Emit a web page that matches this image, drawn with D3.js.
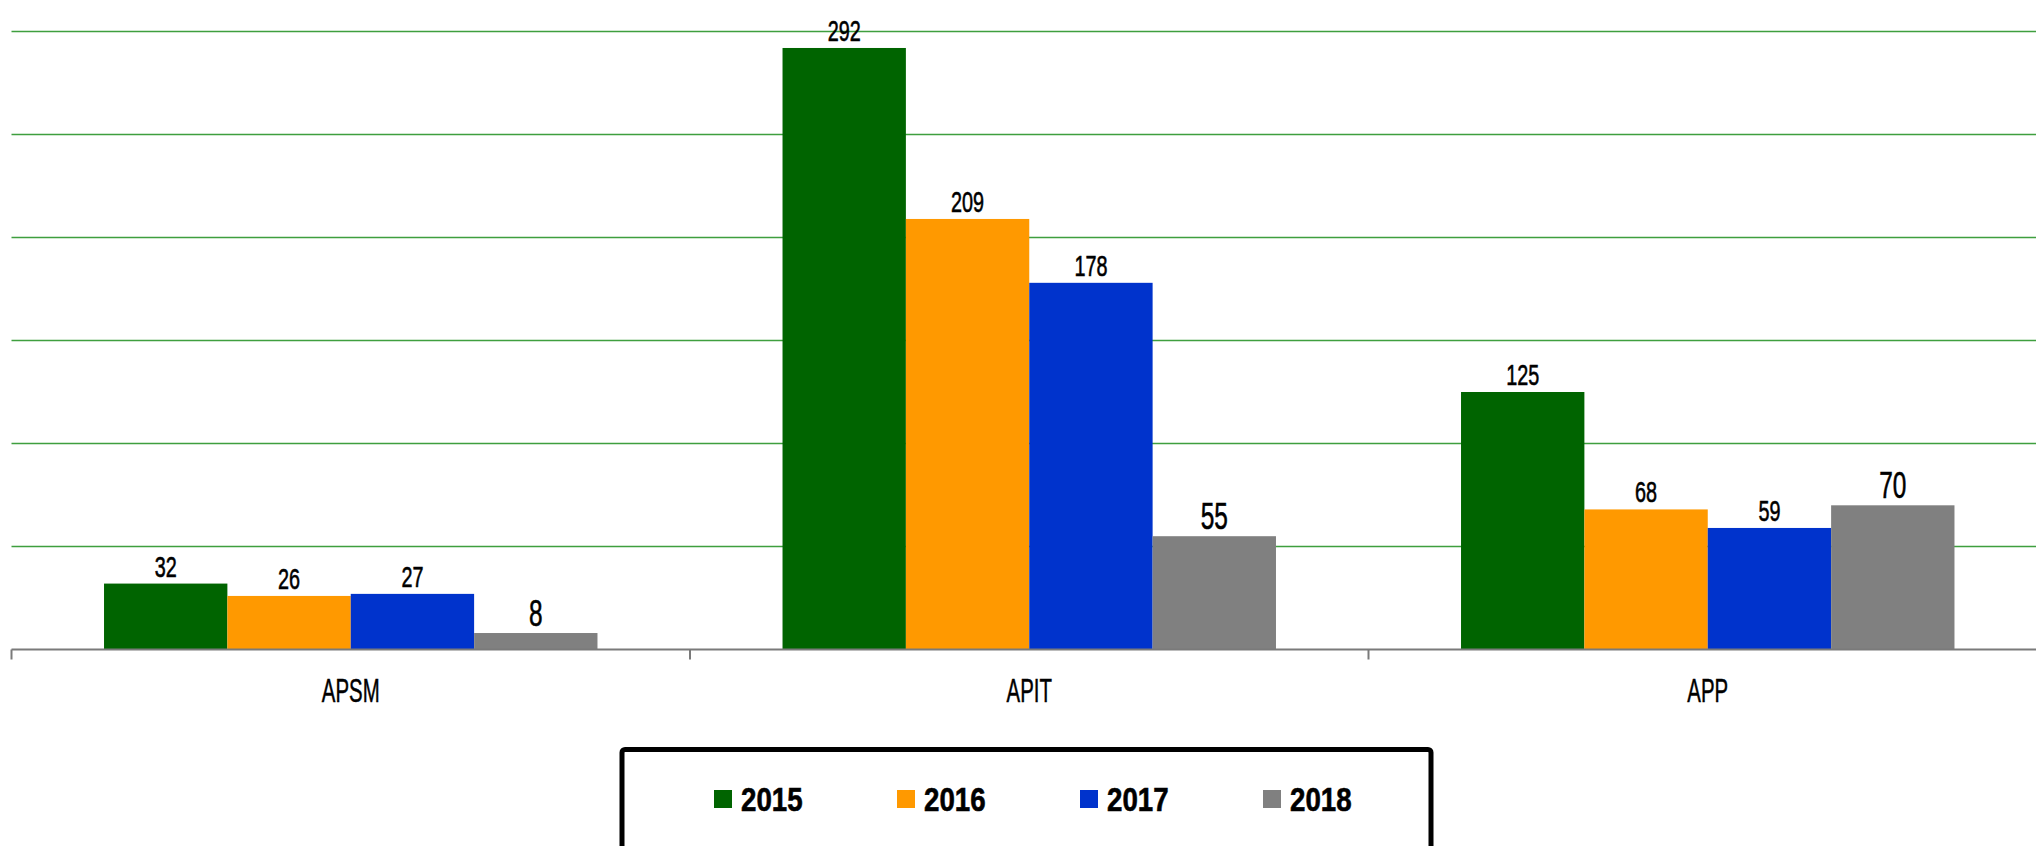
<!DOCTYPE html>
<html>
<head>
<meta charset="utf-8">
<script src="https://cdn.jsdelivr.net/npm/d3@7"></script>
<style>
  html, body { margin: 0; padding: 0; background: #fff; }
  svg { display: block; }
  text { font-family: "Liberation Sans", Arial, sans-serif; }
</style>
</head>
<body>
<div id="chart"></div>
<script>
const width = 2036
const height = 846

const categories = ["APSM", "APIT", "APP"]
const years = ["2015", "2016", "2017", "2018"]
const colors = ["#006400", "#FF9900", "#0033CC", "#808080"]
// one list per year, in the order of categories
const values2015 = [32, 292, 125]
const values2016 = [26, 209, 68]
const values2017 = [27, 178, 59]
const values2018 = [8, 55, 70]
const yTicks = [50, 100, 150, 200, 250, 300]

const series = [values2015, values2016, values2017, values2018]

// 2018 labels were drawn larger in the original
const bigLabelYear = "2018"

// the original font is a tall condensed face, squeeze a normal one
const condense = 0.66

const svg = d3.select("#chart")
    .append("svg")
    .attr("width", width)
    .attr("height", height)
    .attr("viewBox", [0, 0, width, height])

const x0 = d3.scaleBand(categories, [11.5, 2047]).paddingInner(0).paddingOuter(0)
const x1 = d3.scaleBand(years, [0, x0.bandwidth()]).paddingInner(0).paddingOuter(0.75)
const y = d3.scaleLinear([0, 300], [649.5, 31.5])

// gridlines
svg.append("g")
    .selectAll("line")
    .data(yTicks)
    .join("line")
        .attr("x1", 11.5)
        .attr("x2", width)
        .attr("y1", d => y(d))
        .attr("y2", d => y(d))
        .attr("stroke", "#3f9f3f")
        .attr("stroke-width", 1.6)

// bars
const rows = []
categories.forEach((c, ci) => {
    years.forEach((yr, yi) => {
        rows.push({cat: c, year: yr, value: series[yi][ci], color: colors[yi]})
    })
})

const bars = svg.append("g")
bars.selectAll("rect")
    .data(rows)
    .join("rect")
        .attr("x", d => x0(d.cat) + x1(d.year))
        .attr("y", d => y(d.value))
        .attr("width", x1.bandwidth())
        .attr("height", d => y(0) - y(d.value))
        .attr("fill", d => d.color)

// value labels
bars.selectAll("text")
    .data(rows)
    .join("text")
        .attr("transform", d => `translate(${x0(d.cat) + x1(d.year) + x1.bandwidth() / 2},${y(d.value) - 7}) scale(${condense},1)`)
        .attr("text-anchor", "middle")
        .attr("font-size", d => d.year === bigLabelYear ? 37 : 30)
        .attr("fill", "#000")
        .attr("stroke", "#000")
        .attr("stroke-width", 0.6)
        .text(d => d.value)

// x axis
const xAxis = d3.axisBottom(x0).tickSize(0)
const gx = svg.append("g")
    .attr("transform", `translate(0,${y(0)})`)
    .call(xAxis)
gx.select(".domain").remove()
gx.selectAll("text")
    .attr("y", 52.5)
    .attr("dy", null)
    .attr("transform", "scale(0.6,1)")
    .attr("font-size", 34)
    .attr("font-family", null)
    .attr("fill", "#000")
    .attr("stroke", "#000")
    .attr("stroke-width", 0.5)

svg.append("line")
    .attr("x1", 11.5).attr("x2", width)
    .attr("y1", y(0)).attr("y2", y(0))
    .attr("stroke", "#7a7a7a")
    .attr("stroke-width", 2)

const bounds = categories.map(c => x0(c)).concat([x0.range()[1]])
svg.append("g")
    .selectAll("line")
    .data(bounds)
    .join("line")
        .attr("x1", d => d).attr("x2", d => d)
        .attr("y1", y(0)).attr("y2", y(0) + 10)
        .attr("stroke", "#7a7a7a")
        .attr("stroke-width", 2)

// legend
const legend = svg.append("g")
legend.append("rect")
    .attr("x", 622)
    .attr("y", 749.5)
    .attr("width", 809)
    .attr("height", 120)
    .attr("rx", 3)
    .attr("fill", "#fff")
    .attr("stroke", "#000")
    .attr("stroke-width", 5)

const lx = d3.scalePoint(years, [714, 1263])
const items = legend.selectAll("g.item")
    .data(years)
    .join("g")
        .attr("class", "item")
        .attr("transform", d => `translate(${lx(d)},790)`)
items.append("rect")
    .attr("width", 18)
    .attr("height", 18)
    .attr("fill", (d, i) => colors[i])
items.append("text")
    .attr("transform", "translate(27,21) scale(0.84,1)")
    .attr("font-size", 33)
    .attr("font-weight", "bold")
    .attr("fill", "#000")
    .attr("stroke", "#000")
    .attr("stroke-width", 0.6)
    .text(d => d)
</script>
</body>
</html>
